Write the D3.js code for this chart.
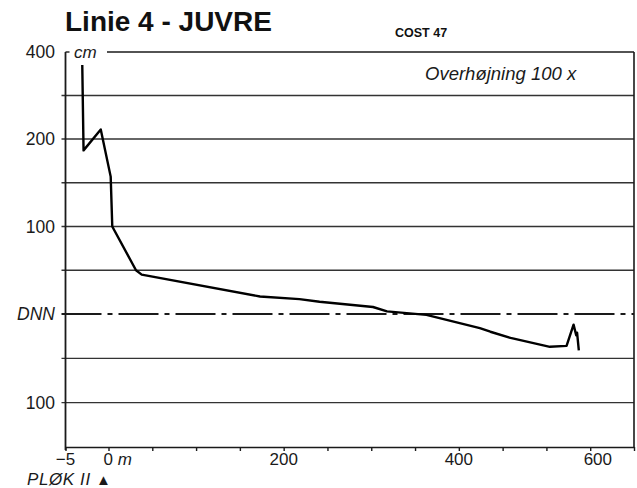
<!DOCTYPE html>
<html>
<head>
<meta charset="utf-8">
<script src="https://cdn.jsdelivr.net/npm/d3@7/dist/d3.min.js"></script>
<style>
  html, body { margin: 0; padding: 0; background: #fff; }
  svg { display: block; font-family: "Liberation Sans", Arial, sans-serif; }
</style>
</head>
<body>
<svg id="chart" width="637" height="488"></svg>
<script>
// Beach profile, line 4 at Juvre: distance from peg (m) and level (cm relative to DNN)
const distance = [-3.05, -2.9, -0.9, 2.5, 4.3, 31.4, 37.9, 173, 218, 241, 302, 318, 363, 424, 436, 459, 504, 523, 531, 534, 535, 537];
const level    = [370, 187, 222, 157, 100, 50, 45, 20, 17, 14, 8, 3, -1, -16, -20, -27, -37, -36, -12, -24, -21, -41];

// Axis values and labels
const yLabelValues = [400, 200, 100, 0, -100];
const gridValues = [300, 200, 150, 100, 50, -50, -100];
const xTickValues = [-5, 0, 50, 100, 150, 200, 250, 300, 350, 400, 450, 500, 550, 600];
const xLabelValues = [-5, 0, 200, 400, 600];

const svg = d3.select("#chart");

// Broken scales: -5..0 m takes one tick interval; the level axis is compressed above 200 cm
const x = d3.scaleLinear().domain([-5, 0, 600]).range([65.5, 108.5, 634]);
const y = d3.scaleLinear().domain([-150, 0, 200, 400]).range([447, 314, 139, 52]);

const ink = "#1a1a1a";

// Horizontal grid lines
svg.append("g").selectAll("line").data(gridValues).join("line")
  .attr("x1", x(-5) - 4).attr("x2", x(600))
  .attr("y1", d => y(d)).attr("y2", d => y(d))
  .attr("stroke", "#333").attr("stroke-width", 1.4);

// DNN datum, dash-dot
svg.append("line")
  .attr("x1", x(-5) - 4).attr("x2", x(600))
  .attr("y1", y(0)).attr("y2", y(0))
  .attr("stroke", ink).attr("stroke-width", 1.8)
  .attr("stroke-dasharray", "40,6,5,6");

// Top frame line (leaves room for the unit label)
svg.append("line")
  .attr("x1", 107).attr("x2", x(600))
  .attr("y1", y(400)).attr("y2", y(400))
  .attr("stroke", ink).attr("stroke-width", 1.4);
svg.append("line")
  .attr("x1", x(-5)).attr("x2", x(-5) + 4)
  .attr("y1", y(400)).attr("y2", y(400))
  .attr("stroke", ink).attr("stroke-width", 1.4);

// Left and right frame
svg.append("line")
  .attr("x1", x(-5)).attr("x2", x(-5))
  .attr("y1", y(400)).attr("y2", y(-150) + 3)
  .attr("stroke", ink).attr("stroke-width", 1.8);
svg.append("line")
  .attr("x1", x(600)).attr("x2", x(600))
  .attr("y1", y(400)).attr("y2", y(-150))
  .attr("stroke", ink).attr("stroke-width", 1.6);

// Distance axis
const xAxis = d3.axisBottom(x).tickValues(xTickValues).tickSize(4).tickSizeOuter(0).tickFormat("");
const gx = svg.append("g").attr("transform", `translate(0,${y(-150)})`).call(xAxis);
gx.select(".domain").attr("stroke", ink).attr("stroke-width", 1.6);
gx.selectAll(".tick line").attr("stroke", ink).attr("stroke-width", 1.4);

const xl = svg.append("g").attr("font-size", 17).attr("fill", ink);
xLabelValues.forEach(v => {
  const t = xl.append("text").attr("y", 465);
  if (v === 0) {
    t.attr("x", x(v) - 5).attr("text-anchor", "start").text("0 ");
    t.append("tspan").attr("font-style", "italic").text("m");
  } else if (v === 600) {
    t.attr("x", x(v) - 22).attr("text-anchor", "end").text(v);
  } else {
    t.attr("x", x(v)).attr("text-anchor", "middle").text(v < 0 ? "\u2212" + Math.abs(v) : v);
  }
});

// Level labels
const yl = svg.append("g").attr("font-size", 17.5).attr("fill", ink).attr("text-anchor", "end");
yLabelValues.forEach(v => {
  yl.append("text")
    .attr("x", 55).attr("y", y(v)).attr("dy", "0.36em")
    .attr("font-style", v === 0 ? "italic" : "normal")
    .text(v === 0 ? "DNN" : Math.abs(v));
});
svg.append("text").attr("x", 74).attr("y", 58)
  .attr("font-size", 17).attr("font-style", "italic").attr("fill", ink).text("cm");

// Profile line
const pts = distance.map((d, i) => [d, level[i]]);
svg.append("path")
  .datum(pts)
  .attr("fill", "none").attr("stroke", "#000").attr("stroke-width", 2.4)
  .attr("stroke-linejoin", "round")
  .attr("d", d3.line().x(d => x(d[0])).y(d => y(d[1])));

// Titles and notes
svg.append("text").attr("x", 65).attr("y", 31)
  .attr("font-size", 28).attr("font-weight", "bold").attr("fill", "#111")
  .text("Linie 4 - JUVRE");
svg.append("text").attr("x", 395).attr("y", 37)
  .attr("font-size", 12.5).attr("font-weight", "bold").attr("fill", "#111")
  .text("COST 47");
svg.append("text").attr("x", 425).attr("y", 80)
  .attr("font-size", 18.5).attr("font-style", "italic").attr("fill", ink)
  .text("Overhøjning 100 x");

// Peg marker
const peg = svg.append("text").attr("x", 27).attr("y", 485)
  .attr("font-size", 17).attr("letter-spacing", 0.6).attr("fill", ink);
peg.append("tspan").attr("font-style", "italic").text("PLØK II ");
peg.append("tspan").attr("font-size", 15).text("\u25B2");
</script>
</body>
</html>
